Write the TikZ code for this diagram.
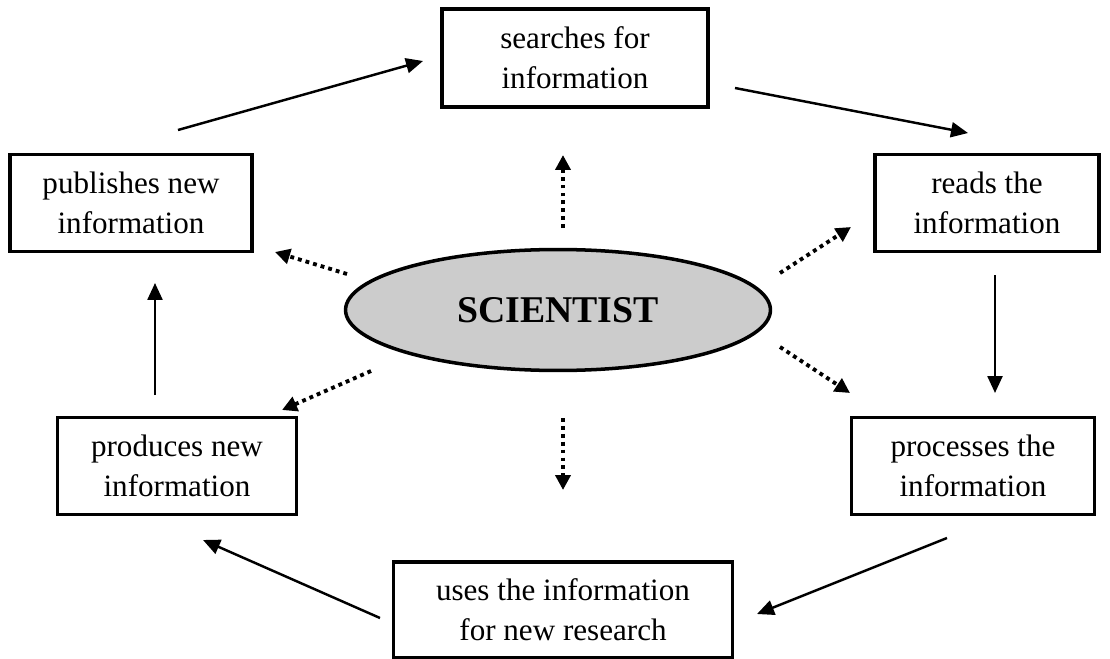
\documentclass[tikz,border=0pt]{standalone}
\usepackage{fontspec}
\setmainfont{Liberation Serif}
\usetikzlibrary{arrows.meta,shapes.geometric}

\tikzset{
  task/.style={draw, line width=2pt, align=center, inner sep=0pt,
    font=\fontsize{17.7}{22.8}\selectfont},
  flow/.style={-{Triangle[length=0.34cm,width=0.3cm]}, line width=1.4pt},
  pointer/.style={-{Triangle[length=0.3cm,width=0.3cm]}, line width=2.2pt,
    dash pattern=on 2.2pt off 2.3pt}
}

\begin{document}
\begin{tikzpicture}[x=0.02cm, y=-0.02cm]
\useasboundingbox (0,0) rectangle (1110,659);

% the six steps round the circle
\node[task, minimum width=5.32cm, minimum height=1.96cm] (search) at (575,58) {searches for\\information};
\node[task, minimum width=4.48cm, minimum height=1.94cm] (read) at (987,203) {reads the\\information};
\node[task, minimum width=4.86cm, minimum height=1.94cm] (process) at (973,466) {processes the\\information};
\node[task, minimum width=6.78cm, minimum height=1.92cm] (use) at (563,610) {uses the information\\for new research};
\node[task, minimum width=4.78cm, minimum height=1.94cm] (produce) at (177,466) {produces new\\information};
\node[task, minimum width=4.84cm, minimum height=1.94cm] (publish) at (131,203) {publishes new\\information};

% the scientist in the middle
\node[ellipse, draw, line width=2pt, fill=black!20, minimum width=8.5cm, minimum height=2.42cm,
  font=\fontsize{21.5}{26}\selectfont\bfseries] (sci) at (558,310) {SCIENTIST};

% ends of the cycle arrows
\coordinate (c1) at (178,130); \coordinate (c2) at (423,61);
\coordinate (c3) at (735,88);  \coordinate (c4) at (968,133);
\coordinate (c5) at (995,275); \coordinate (c6) at (995,393);
\coordinate (c7) at (947,538); \coordinate (c8) at (757,614);
\coordinate (c9) at (380,618); \coordinate (c10) at (203,540);
\coordinate (c11) at (155,395); \coordinate (c12) at (155,283);

\foreach \s/\t in {c1/c2, c3/c4, c5/c6, c7/c8, c9/c10, c11/c12}
  {\draw[flow] (\s) -- (\t);}

% ends of the dotted arrows out of the scientist
\coordinate (d1) at (563,228);  \coordinate (d2) at (563,155);
\coordinate (d3) at (780,273);  \coordinate (d4) at (851,227);
\coordinate (d5) at (780,347);  \coordinate (d6) at (850,393);
\coordinate (d7) at (563,418);  \coordinate (d8) at (563,490);
\coordinate (d9) at (371,371);  \coordinate (d10) at (282,410);
\coordinate (d11) at (347,274); \coordinate (d12) at (275,252);

\foreach \s/\t in {d1/d2, d3/d4, d5/d6, d7/d8, d9/d10, d11/d12}
  {\draw[pointer] (\s) -- (\t);}

\end{tikzpicture}
\end{document}
